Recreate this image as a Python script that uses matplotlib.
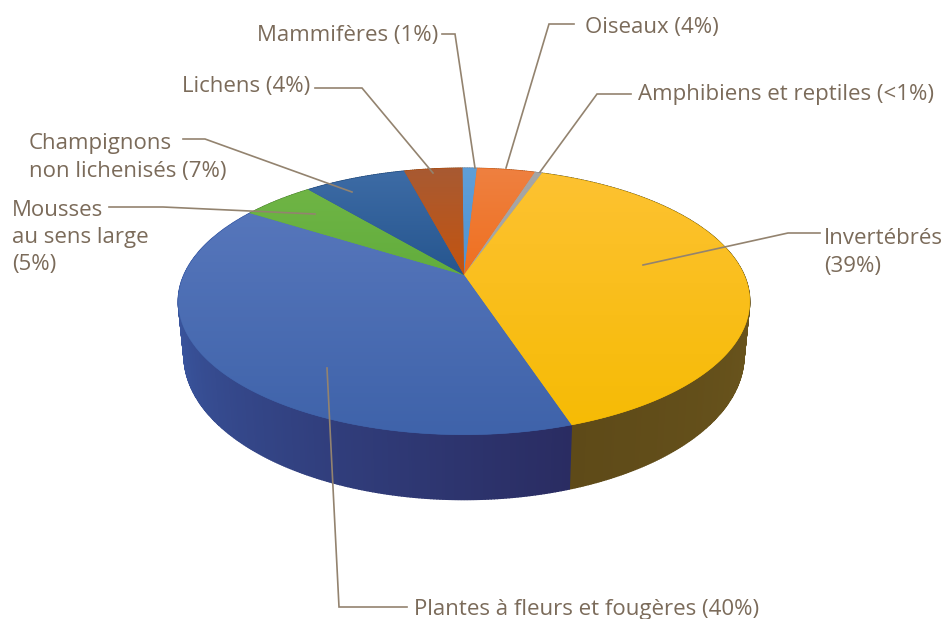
import numpy as np
import matplotlib
matplotlib.use('Agg')
import matplotlib.pyplot as plt
from matplotlib.colors import LinearSegmentedColormap
from matplotlib.patches import Polygon

# clockwise from the top of the pie
groups = ['Mammifères', 'Oiseaux', 'Amphibiens et reptiles', 'Invertébrés',
          'Plantes à fleurs et fougères', 'Mousses au sens large',
          'Champignons non lichenisés', 'Lichens']
shares = [1, 4, 0.5, 39.8, 39.2, 5, 7, 4]

top_light = ['#5f9fd8', '#ee8040', '#a5a5a5', '#fdc231', '#5676bb', '#6fb545', '#3d6ba5', '#a85a32']
top_dark = ['#4f93d2', '#f0701f', '#a5a5a5', '#f6bb05', '#3f63aa', '#62ad3d', '#26568f', '#c4540f']
side_start = ['#3c6a94', '#a5521f', '#6e6e6e', '#6c571e', '#2a2c62', '#4a7a2c', '#264a78', '#7f3a0b']
side_end = ['#3c6a94', '#a5521f', '#6e6e6e', '#5e4a18', '#3c5ca8', '#4a7a2c', '#264a78', '#7f3a0b']

labels = [
    ('Mammifères (1%)', 257, 33, [(442, 34), (455, 34), (475, 168)]),
    ('Oiseaux (4%)', 585, 25, [(574, 24), (549, 24), (506, 168)]),
    ('Amphibiens et reptiles (<1%)', 638, 92, [(631, 94), (597, 94), (540, 172)]),
    ('Lichens (4%)', 182, 84, [(315, 88), (362, 88), (433, 173)]),
    ('Champignons\nnon lichenisés (7%)', 29, 152, [(183, 139), (205, 139), (352, 192)]),
    ('Mousses\nau sens large\n(5%)', 12, 232, [(109, 207), (163, 207), (315, 214)]),
    ('Invertébrés\n(39%)', 824, 247, [(820, 233), (788, 233), (643, 265)]),
    ('Plantes à fleurs et fougères (40%)', 414, 607, [(327, 368), (339, 607), (407, 607)]),
]

text_col = '#7b6b5a'
line_col = '#93836f'

plt.rcParams['font.family'] = ['Open Sans', 'DejaVu Sans']

# perspective of the disc
cx, cy = 464, 275
a, b, k = 280, 128, 0.1985
depth = 52


def project(ang):
    x = np.sin(ang)
    y = np.cos(ang)
    w = 1 + k * y
    return cx + a * x / w, cy - b * y / w


def project_low(ang):
    x = np.sin(ang)
    y = np.cos(ang)
    w = 1 + k * y
    return cx + 0.98 * a * x / w, cy - b * y / w + depth / w


fig = plt.figure(figsize=(9.45, 6.19), dpi=100)
ax = fig.add_axes([0, 0, 1, 1])

fractions = np.array(shares) / sum(shares)
edges = np.radians(-0.4) + 2 * np.pi * np.concatenate([[0], np.cumsum(fractions)])

# side wall, back to front
quads = []
for i in range(len(shares)):
    angs = np.linspace(edges[i], edges[i + 1], max(int(fractions[i] * 720), 2))
    cmap = LinearSegmentedColormap.from_list('s', [side_start[i], side_end[i]])
    # colour runs over the visible part of the wall only
    vis0 = max(edges[i], np.pi / 2)
    vis1 = min(edges[i + 1], 3 * np.pi / 2)
    for j in range(len(angs) - 1):
        t = np.clip((angs[j] - vis0) / max(vis1 - vis0, 1e-6), 0, 1)
        col = cmap(t)
        xa, ya = project(angs[j:j + 2])
        xb, yb = project_low(angs[j:j + 2])
        pts = [(xa[0], ya[0]), (xa[1], ya[1]), (xb[1], yb[1]), (xb[0], yb[0])]
        quads.append((np.cos(angs[j]), pts, col))
quads.sort(key=lambda q: -q[0])
for _, pts, col in quads:
    ax.add_patch(Polygon(pts, closed=True, fc=col, ec=col, lw=1.0, zorder=2))

# top face with a vertical gradient in each slice
for i in range(len(shares)):
    angs = np.linspace(edges[i], edges[i + 1], max(int(fractions[i] * 400), 3))
    xs, ys = project(angs)
    xs = np.concatenate([[cx], xs])
    ys = np.concatenate([[cy], ys])
    poly = Polygon(np.column_stack([xs, ys]), closed=True, fc=top_dark[i], ec=top_dark[i], lw=0.4, zorder=3)
    ax.add_patch(poly)
    cmap = LinearSegmentedColormap.from_list('t', [top_light[i], top_dark[i]])
    im = ax.imshow(np.linspace(0, 1, 64).reshape(-1, 1), cmap=cmap, aspect='auto', zorder=3.1,
                   extent=(xs.min(), xs.max(), ys.max(), ys.min()))
    im.set_clip_path(poly)

# leaders and labels
for txt, tx, ty, path in labels:
    ax.plot([p[0] for p in path], [p[1] for p in path], color=line_col, lw=1.2, zorder=4,
            solid_joinstyle='miter')
    ax.text(tx, ty, txt, color=text_col, fontsize=16, ha='left', va='center_baseline',
            linespacing=1.38, zorder=5)

ax.set_xlim(0, 945)
ax.set_ylim(619, 0)
ax.axis('off')
fig.savefig('out.png', dpi=100, facecolor='white')
